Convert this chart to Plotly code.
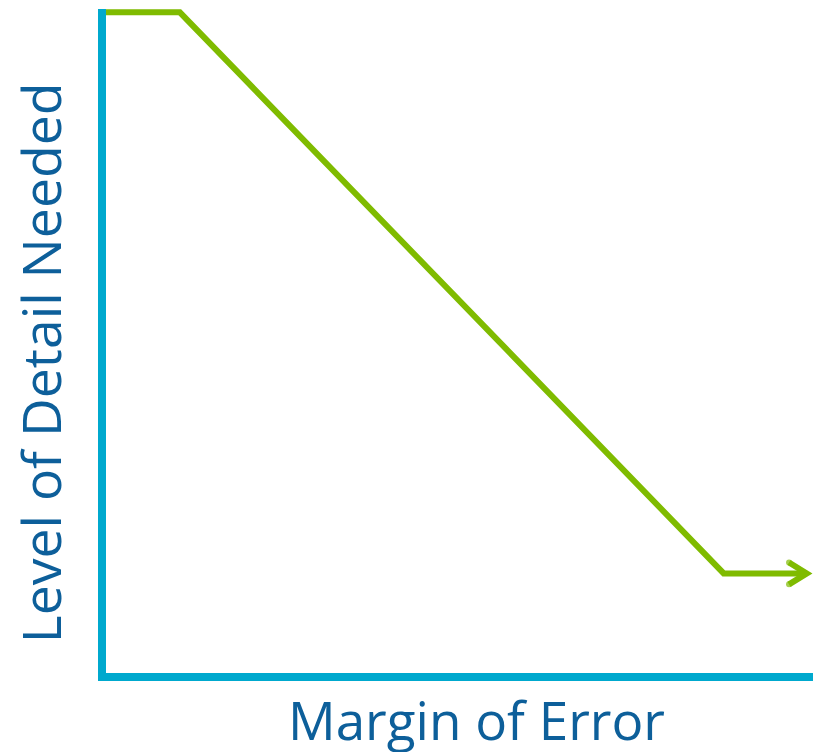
import plotly.graph_objects as go

# Data (conceptual units)
margin_of_error = [0, 10.4, 87.0, 98.7]
detail_needed = [99.5, 99.5, 15.0, 15.0]
# arrowhead chevron at the end of the line
arrow_dx = 2.5
arrow_dy = 1.65
arrow_x = [margin_of_error[-1] - arrow_dx, margin_of_error[-1], margin_of_error[-1] - arrow_dx]
arrow_y = [detail_needed[-1] + arrow_dy, detail_needed[-1], detail_needed[-1] - arrow_dy]

x_title = "Margin of Error"
y_title = "Level of Detail Needed"

CYAN = "#00a9ce"
GREEN = "#7fbb00"
TEXT = "#0d5f9a"

fig = go.Figure()
fig.add_trace(go.Scatter(x=margin_of_error, y=detail_needed, mode="lines",
                         line=dict(color=GREEN, width=6), hoverinfo="skip"))
fig.add_trace(go.Scatter(x=arrow_x, y=arrow_y, mode="lines+markers",
                         line=dict(color=GREEN, width=6),
                         marker=dict(size=[6, 0, 6], color=GREEN, line=dict(width=0)),
                         hoverinfo="skip", cliponaxis=False))

# page body has an 8px default margin: figure is sized/offset to compensate
fig.update_layout(
    width=813, height=744,
    margin=dict(l=98, r=5, t=1, b=79, autoexpand=False),
    paper_bgcolor="white", plot_bgcolor="white",
    showlegend=False,
    xaxis=dict(range=[0, 100], showline=True, linecolor=CYAN, linewidth=8,
               showgrid=False, zeroline=False, showticklabels=False, ticks=""),
    yaxis=dict(range=[0, 100], showline=True, linecolor=CYAN, linewidth=8,
               showgrid=False, zeroline=False, showticklabels=False, ticks=""),
    annotations=[
        dict(text=x_title, xref="paper", yref="paper", x=0.522, y=-0.07,
             xanchor="center", yanchor="middle", showarrow=False,
             font=dict(family="Open Sans", size=53, color=TEXT)),
        dict(text=y_title, xref="paper", yref="paper", x=-0.093, y=0.468,
             xanchor="center", yanchor="middle", showarrow=False, textangle=-90,
             font=dict(family="Open Sans", size=53.5, color=TEXT)),
    ],
)

fig.write_html("out.html")
